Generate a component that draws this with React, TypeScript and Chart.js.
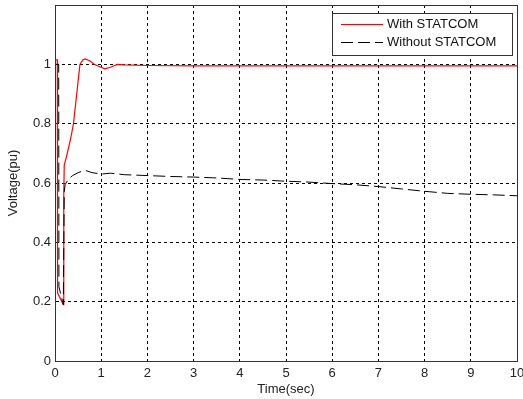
import React, { useEffect, useRef } from "react";
import { Chart, registerables } from "chart.js";

Chart.register(...registerables);

const timeWith = [0, 0.05, 0.055, 0.18, 0.19, 0.2, 0.25, 0.34, 0.4, 0.47, 0.54, 0.6, 0.65, 0.75, 0.85, 0.97, 1.08, 1.2, 1.35, 1.5, 2, 3, 5, 7, 10];
const voltWith = [1.015, 1.015, 0.23, 0.19, 0.56, 0.66, 0.69, 0.75, 0.8, 0.9, 1.0, 1.015, 1.018, 1.012, 1.0, 0.992, 0.985, 0.99, 1.0, 0.998, 0.996, 0.995, 0.995, 0.995, 0.995];

const timeWithout = [0, 0.08, 0.085, 0.18, 0.2, 0.22, 0.3, 0.38, 0.5, 0.65, 0.8, 1.0, 1.2, 1.5, 2, 2.5, 3, 3.5, 4, 4.5, 5, 5.5, 6, 6.5, 7, 7.5, 8, 8.5, 9, 9.5, 10];
const voltWithout = [1.0, 1.0, 0.25, 0.19, 0.57, 0.595, 0.615, 0.625, 0.635, 0.643, 0.635, 0.63, 0.633, 0.628, 0.625, 0.622, 0.62, 0.617, 0.612, 0.61, 0.606, 0.603, 0.598, 0.594, 0.588, 0.58, 0.572, 0.565, 0.562, 0.56, 0.557];

const xTicks = [0, 1, 2, 3, 4, 5, 6, 7, 8, 9, 10];
const yTickLabels = ["0", "0.2", "0.4", "0.6", "0.8", "1"];
const seriesNames = ["With STATCOM", "Without STATCOM"];
const xTitle = "Time(sec)";
const yTitle = "Voltage(pu)";

const FONT = "'Liberation Sans', Arial, sans-serif";

const boxPlugin = {
  id: "boxLegend",
  afterDraw(chart: any) {
    const { ctx, chartArea } = chart;
    const { left, right, top, bottom } = chartArea;
    ctx.save();
    ctx.strokeStyle = "#333";
    ctx.lineWidth = 1;
    ctx.setLineDash([]);
    ctx.strokeRect(Math.round(left) + 0.5, Math.round(top) + 0.5, Math.round(right - left), Math.round(bottom - top));
    const lx = 332, ly = 13, lw = 180, lh = 42;
    ctx.fillStyle = "#fff";
    ctx.fillRect(lx, ly, lw, lh);
    ctx.strokeStyle = "#333";
    ctx.strokeRect(lx + 0.5, ly + 0.5, lw, lh);
    ctx.font = `13px ${FONT}`;
    ctx.fillStyle = "#111";
    ctx.textBaseline = "middle";
    ctx.textAlign = "left";
    ctx.strokeStyle = "#ff0000";
    ctx.beginPath();
    ctx.moveTo(341, 24.5);
    ctx.lineTo(383, 24.5);
    ctx.stroke();
    ctx.fillText(seriesNames[0], 387, 24);
    ctx.strokeStyle = "#000";
    ctx.setLineDash([12, 5]);
    ctx.beginPath();
    ctx.moveTo(341, 42.5);
    ctx.lineTo(383, 42.5);
    ctx.stroke();
    ctx.setLineDash([]);
    ctx.fillText(seriesNames[1], 387, 42);
    ctx.restore();
  },
};

export default function App() {
  const ref = useRef<HTMLCanvasElement | null>(null);
  useEffect(() => {
    document.body.style.margin = "0";
    const canvas = ref.current!;
    const chart = new Chart(canvas, {
      type: "line",
      data: {
        datasets: [
          {
            label: seriesNames[1],
            data: timeWithout.map((t, i) => ({ x: t, y: voltWithout[i] })),
            borderColor: "#000",
            borderWidth: 1,
            borderDash: [12, 5],
            pointRadius: 0,
            tension: 0,
            order: 0,
          },
          {
            label: seriesNames[0],
            data: timeWith.map((t, i) => ({ x: t, y: voltWith[i] })),
            borderColor: "#ff0000",
            borderWidth: 1.2,
            pointRadius: 0,
            tension: 0,
            order: 1,
          },
        ],
      },
      options: {
        animation: false,
        responsive: false,
        devicePixelRatio: 1,
        layout: { padding: { top: 5, right: 6, left: 0, bottom: 0 } },
        plugins: { legend: { display: false }, tooltip: { enabled: false } },
        scales: {
          x: {
            type: "linear",
            min: 0,
            max: 10,
            afterBuildTicks: (scale: any) => {
              scale.ticks = xTicks.map((v) => ({ value: v }));
            },
            afterFit: (scale: any) => {
              scale.height = 38;
              scale.paddingLeft = 0;
              scale.paddingRight = 0;
            },
            ticks: {
              color: "#222",
              font: { family: FONT, size: 13 },
              padding: 5,
              maxRotation: 0,
              callback: (v: any) => String(v),
            },
            grid: { color: "#000", lineWidth: 1, drawTicks: false },
            border: { display: true, color: "#333", dash: [3, 3] },
            title: {
              display: true,
              text: xTitle,
              color: "#222",
              font: { family: FONT, size: 13 },
              padding: { top: 0, bottom: 2 },
            },
          },
          y: {
            type: "linear",
            min: 0,
            max: 1.2,
            afterBuildTicks: (scale: any) => {
              scale.ticks = [0, 0.2, 0.4, 0.6, 0.8, 1, 1.2].map((v) => ({ value: v }));
            },
            afterFit: (scale: any) => {
              scale.width = 55;
              scale.paddingTop = 0;
              scale.paddingBottom = 0;
            },
            ticks: {
              color: "#222",
              font: { family: FONT, size: 13 },
              padding: 4,
              callback: (v: any, i: number) => (i < yTickLabels.length ? yTickLabels[i] : ""),
            },
            grid: { color: "#000", lineWidth: 1, drawTicks: false },
            border: { display: true, color: "#333", dash: [3, 3] },
            title: {
              display: true,
              text: yTitle,
              color: "#222",
              font: { family: FONT, size: 13 },
              padding: { top: 6, bottom: 2 },
            },
          },
        },
      },
      plugins: [boxPlugin],
    } as any);
    return () => chart.destroy();
  }, []);
  return (
    <div style={{ width: 523, height: 399, background: "#fff" }}>
      <canvas ref={ref} width={523} height={399} style={{ display: "block" }} />
    </div>
  );
}
